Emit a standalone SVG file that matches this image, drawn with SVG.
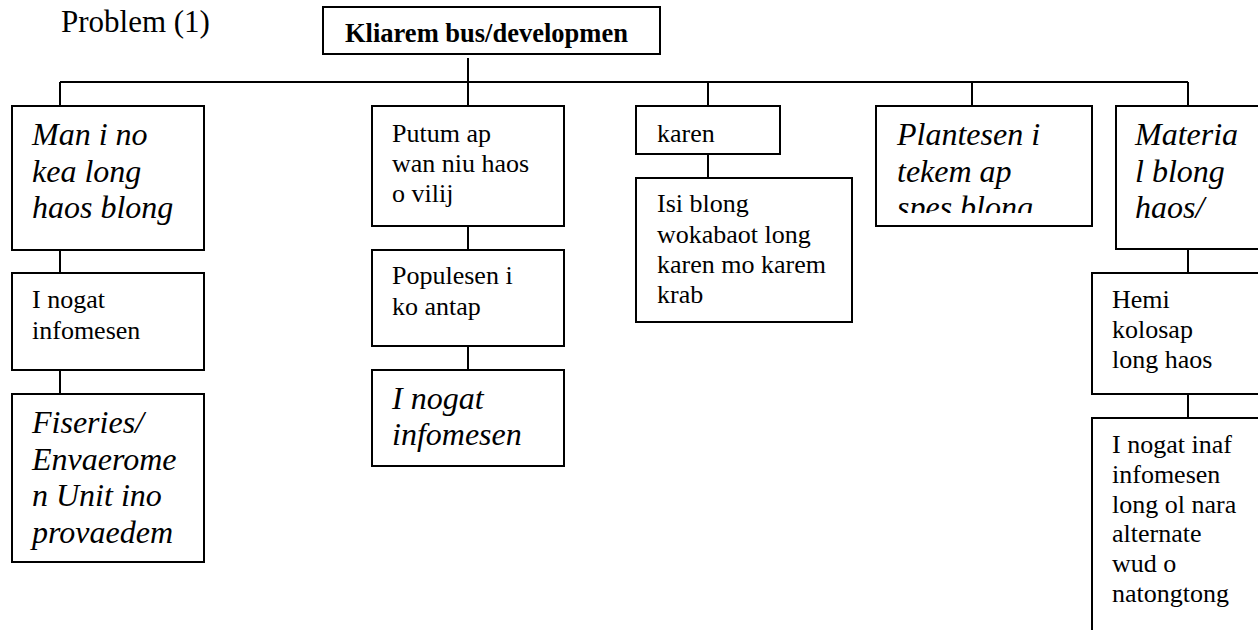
<svg xmlns="http://www.w3.org/2000/svg" width="1258" height="630" viewBox="0 0 1258 630">
<style>
.box{fill:#fff;stroke:#000;stroke-width:2}
.ln{stroke:#000;stroke-width:2;fill:none}
.t{font-family:"Liberation Serif","Times New Roman",serif;font-size:26px;fill:#000}
.i{font-family:"Liberation Serif","Times New Roman",serif;font-size:32px;font-style:italic;fill:#000}
.b{font-family:"Liberation Serif","Times New Roman",serif;font-size:26.5px;font-weight:bold;fill:#000}
</style>
<defs>
<clipPath id="c1"><rect x="12" y="106" width="192" height="135"/></clipPath>
<clipPath id="c4"><rect x="876" y="106" width="216" height="107"/></clipPath>
<clipPath id="c5"><rect x="1116" y="106" width="150" height="132"/></clipPath>
</defs>
<rect width="1258" height="630" fill="#fff"/>
<text class="t" x="61" y="32" style="font-size:31px">Problem (1)</text>
<g id="connectors">
<path class="ln" d="M468 58V82M60 82H1188M60 82V106M468 82V106M708 82V106M972 82V106M1188 82V106"/>
<path class="ln" d="M60 250V273M60 370V394"/>
<path class="ln" d="M468 226V250M468 346V370"/>
<path class="ln" d="M708 154V178"/>
<path class="ln" d="M1188 250V273M1188 394V418"/>
</g>
<g id="root">
<rect class="box" x="323" y="7" width="337" height="47"/>
<text class="b" x="345" y="42">Kliarem bus/developmen</text>
</g>
<g id="n1">
<rect class="box" x="12" y="106" width="192" height="144"/>
<text class="i" clip-path="url(#c1)"><tspan x="32" y="145">Man i no</tspan><tspan x="32" y="182">kea long</tspan><tspan x="32" y="218">haos blong</tspan></text>
</g>
<g id="n1a">
<rect class="box" x="12" y="273" width="192" height="97"/>
<text class="t"><tspan x="32" y="308">I nogat</tspan><tspan x="32" y="339">infomesen</tspan></text>
</g>
<g id="n1b">
<rect class="box" x="12" y="394" width="192" height="168"/>
<text class="i"><tspan x="32" y="433">Fiseries/</tspan><tspan x="32" y="470">Envaerome</tspan><tspan x="32" y="506">n Unit ino</tspan><tspan x="32" y="543">provaedem</tspan></text>
</g>
<g id="n2">
<rect class="box" x="372" y="106" width="192" height="120"/>
<text class="t"><tspan x="392" y="142">Putum ap</tspan><tspan x="392" y="172">wan niu haos</tspan><tspan x="392" y="202">o vilij</tspan></text>
</g>
<g id="n2a">
<rect class="box" x="372" y="250" width="192" height="96"/>
<text class="t"><tspan x="392" y="284">Populesen i</tspan><tspan x="392" y="315">ko antap</tspan></text>
</g>
<g id="n2b">
<rect class="box" x="372" y="370" width="192" height="96"/>
<text class="i"><tspan x="392" y="409">I nogat</tspan><tspan x="392" y="445">infomesen</tspan></text>
</g>
<g id="n3">
<rect class="box" x="636" y="106" width="144" height="48"/>
<text class="t" x="657" y="142">karen</text>
</g>
<g id="n3a">
<rect class="box" x="636" y="178" width="216" height="144"/>
<text class="t"><tspan x="657" y="212">Isi blong</tspan><tspan x="657" y="243">wokabaot long</tspan><tspan x="657" y="273">karen mo karem</tspan><tspan x="657" y="303">krab</tspan></text>
</g>
<g id="n4">
<rect class="box" x="876" y="106" width="216" height="120"/>
<text class="i" clip-path="url(#c4)"><tspan x="897" y="145">Plantesen i</tspan><tspan x="897" y="182">tekem ap</tspan><tspan x="897" y="218">spes blong</tspan></text>
</g>
<g id="n5">
<rect class="box" x="1116" y="106" width="160" height="143"/>
<text class="i" clip-path="url(#c5)"><tspan x="1135" y="145">Materia</tspan><tspan x="1135" y="182">l blong</tspan><tspan x="1135" y="218">haos/</tspan></text>
</g>
<g id="n5a">
<rect class="box" x="1092" y="273" width="190" height="121"/>
<text class="t"><tspan x="1112" y="308">Hemi</tspan><tspan x="1112" y="338">kolosap</tspan><tspan x="1112" y="368">long haos</tspan></text>
</g>
<g id="n5b">
<rect class="box" x="1092" y="418" width="190" height="240"/>
<text class="t"><tspan x="1112" y="453">I nogat inaf</tspan><tspan x="1112" y="483">infomesen</tspan><tspan x="1112" y="513">long ol nara</tspan><tspan x="1112" y="542">alternate</tspan><tspan x="1112" y="572">wud o</tspan><tspan x="1112" y="602">natongtong</tspan></text>
</g>
</svg>
